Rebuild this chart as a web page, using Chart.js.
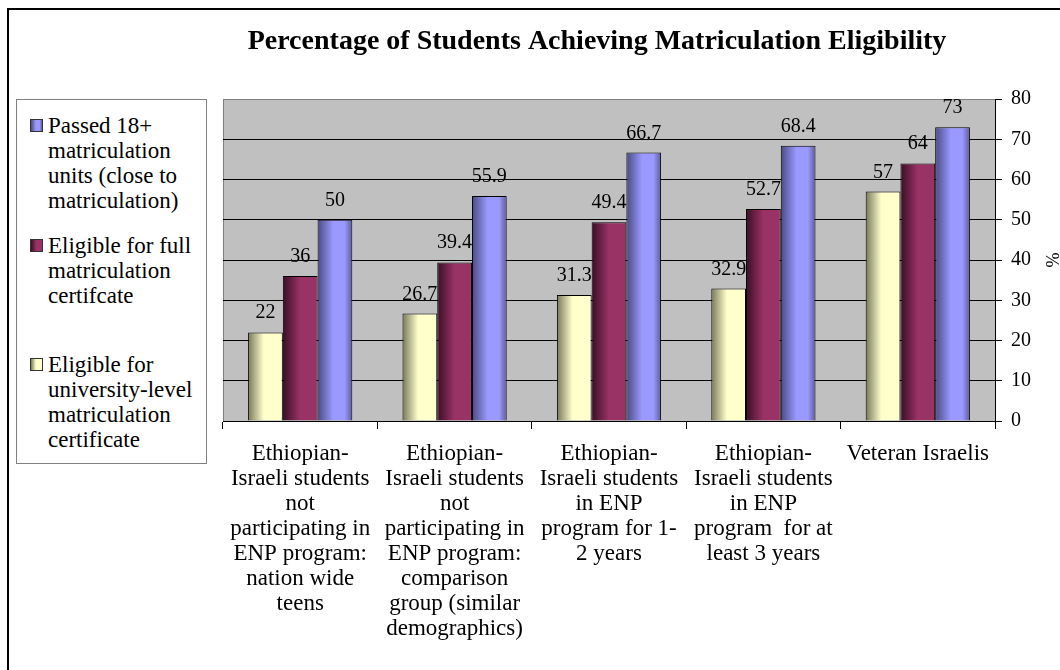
<!DOCTYPE html>
<html><head><meta charset="utf-8">
<script src="https://cdn.jsdelivr.net/npm/chart.js@4.4.1/dist/chart.umd.min.js"></script>
<style>
html,body{margin:0;padding:0;background:#fff;}
#wrap{position:relative;width:1060px;height:670px;overflow:hidden;font-family:'Liberation Serif',serif;}
#frame{position:absolute;left:7px;top:8px;width:1100px;height:700px;border-left:2px solid #000;border-top:2px solid #000;}
#legend{position:absolute;left:16px;top:99px;width:189px;height:363px;border:1px solid #808080;background:#fff;}
.sw{position:absolute;left:13px;width:11px;height:11px;border:1px solid #333;}
.txt{position:absolute;left:31px;font-size:23px;line-height:25px;color:#000;white-space:nowrap;}
canvas{position:absolute;left:0;top:0;}
</style>
</head><body>
<div id="wrap">
<canvas id="c" width="1060" height="670"></canvas>
<div id="frame"></div>
<div id="legend"></div>
</div>
<script>
const chartTitle = 'Percentage of Students Achieving Matriculation Eligibility';
const categories = [
  ['Ethiopian-', 'Israeli students', 'not', 'participating in', 'ENP program:', 'nation wide', 'teens'],
  ['Ethiopian-', 'Israeli students', 'not', 'participating in', 'ENP program:', 'comparison', 'group (similar', 'demographics)'],
  ['Ethiopian-', 'Israeli students', 'in ENP', 'program for 1-', '2 years'],
  ['Ethiopian-', 'Israeli students', 'in ENP', 'program  for at', 'least 3 years'],
  ['Veteran Israelis']
];
const seriesNames = [
  ['Eligible for', 'university-level', 'matriculation', 'certificate'],
  ['Eligible for full', 'matriculation', 'certifcate'],
  ['Passed 18+', 'matriculation', 'units (close to', 'matriculation)']
];
const universityLevel = [22, 26.7, 31.3, 32.9, 57];
const fullCertificate = [36, 39.4, 49.4, 52.7, 64];
const passed18 = [50, 55.9, 66.7, 68.4, 73];
const yTicks = [0, 10, 20, 30, 40, 50, 60, 70, 80];
const yTitle = '%';

const FONT = "'Liberation Serif', 'Times New Roman', serif";
const solid = ['#ffffcc', '#993366', '#9999ff'];
const grads = [
  [[0, '#77775a'], [0.45, '#ffffcc'], [1, '#ffffcc']],
  [[0, '#3a0e24'], [0.5, '#993366'], [1, '#993366']],
  [[0, '#4a4a82'], [0.45, '#9999ff'], [0.78, '#9999ff'], [1, '#5c5c99']]
];

// HTML legend (reverse order, as in the reference)
const legendEl = document.getElementById('legend');
const itemTops = [13, 133, 252];
[2, 1, 0].forEach((si, k) => {
  const sw = document.createElement('div');
  sw.className = 'sw';
  sw.style.top = (itemTops[k] + 6) + 'px';
  const g = grads[si].map(s => s[1] + ' ' + Math.round(s[0] * 100) + '%').join(',');
  sw.style.background = 'linear-gradient(to right,' + g + ')';
  legendEl.appendChild(sw);
  const t = document.createElement('div');
  t.className = 'txt';
  t.style.top = itemTops[k] + 'px';
  t.innerHTML = seriesNames[si].join('<br>');
  legendEl.appendChild(t);
});

const shadePlugin = {
  id: 'shade',
  beforeDraw(chart) {
    const {ctx, chartArea: a} = chart;
    ctx.save();
    ctx.fillStyle = '#c0c0c0';
    ctx.fillRect(a.left, a.top, a.right - a.left, a.bottom - a.top);
    ctx.strokeStyle = '#808080';
    ctx.lineWidth = 1;
    ctx.beginPath();
    ctx.moveTo(a.left + 0.5, a.bottom);
    ctx.lineTo(a.left + 0.5, a.top + 0.5);
    ctx.lineTo(a.right, a.top + 0.5);
    ctx.stroke();
    ctx.restore();
  },
  beforeDatasetsDraw(chart) {
    chart.data.datasets.forEach((ds, i) => {
      const meta = chart.getDatasetMeta(i);
      meta.data.forEach(el => {
        const x0 = el.x - el.width / 2, x1 = el.x + el.width / 2;
        const g = chart.ctx.createLinearGradient(x0, 0, x1, 0);
        grads[i].forEach(s => g.addColorStop(s[0], s[1]));
        el.options.backgroundColor = g;
      });
    });
  },
  afterDatasetsDraw(chart) {
    const ctx = chart.ctx;
    ctx.save();
    ctx.font = '20px ' + FONT;
    ctx.fillStyle = '#000';
    ctx.textAlign = 'center';
    ctx.textBaseline = 'alphabetic';
    chart.data.datasets.forEach((ds, i) => {
      const meta = chart.getDatasetMeta(i);
      meta.data.forEach((el, j) => {
        ctx.fillText(String(ds.data[j]), el.x, el.y - 14);
      });
    });
    ctx.restore();
  }
};

Chart.defaults.font.family = FONT;
Chart.defaults.color = '#000';

new Chart(document.getElementById('c'), {
  type: 'bar',
  data: {
    labels: categories,
    datasets: [
      {label: seriesNames[0].join(' '), data: universityLevel, backgroundColor: c => solid[0], borderColor: '#000', borderWidth: 1},
      {label: seriesNames[1].join(' '), data: fullCertificate, backgroundColor: c => solid[1], borderColor: '#000', borderWidth: 1},
      {label: seriesNames[2].join(' '), data: passed18, backgroundColor: c => solid[2], borderColor: '#000', borderWidth: 1}
    ]
  },
  options: {
    responsive: false,
    animation: false,
    devicePixelRatio: 1,
    layout: {padding: {left: 134, right: 0, top: 0, bottom: 0}},
    datasets: {bar: {categoryPercentage: 0.675, barPercentage: 1}},
    plugins: {
      legend: {display: false},
      tooltip: {enabled: false},
      title: {
        display: true, text: chartTitle, color: '#000',
        font: {family: FONT, size: 28, weight: 'bold', lineHeight: 1.2},
        padding: {top: 25.2, bottom: 40.2}
      }
    },
    scales: {
      x: {
        grid: {offset: true, drawOnChartArea: false, tickLength: 8, color: '#000', tickColor: '#000'},
        border: {color: '#000'},
        ticks: {color: '#000', font: {size: 23, lineHeight: 25 / 23}, padding: 12, maxRotation: 0, minRotation: 0, autoSkip: false},
        afterFit(s) { s.height = 249; }
      },
      y: {
        position: 'right', min: 0, max: 80,
        afterBuildTicks(s) { s.ticks = yTicks.map(v => ({value: v})); },
        ticks: {color: '#000', font: {size: 20}, padding: 9},
        grid: {color: c => (c.tick && c.tick.value === 80) ? '#808080' : '#000', tickColor: '#000', tickLength: 7},
        border: {color: '#000'},
        title: {display: true, text: yTitle, color: '#000', font: {size: 18, lineHeight: 1}, padding: 0},
        afterFit(s) { s.width = 65; }
      },
      yl: {
        type: 'linear', position: 'left', display: true,
        grid: {display: false, drawTicks: false},
        border: {display: false},
        ticks: {display: false},
        afterFit(s) { s.width = 89; }
      }
    }
  },
  plugins: [shadePlugin]
});
</script>
</body></html>
